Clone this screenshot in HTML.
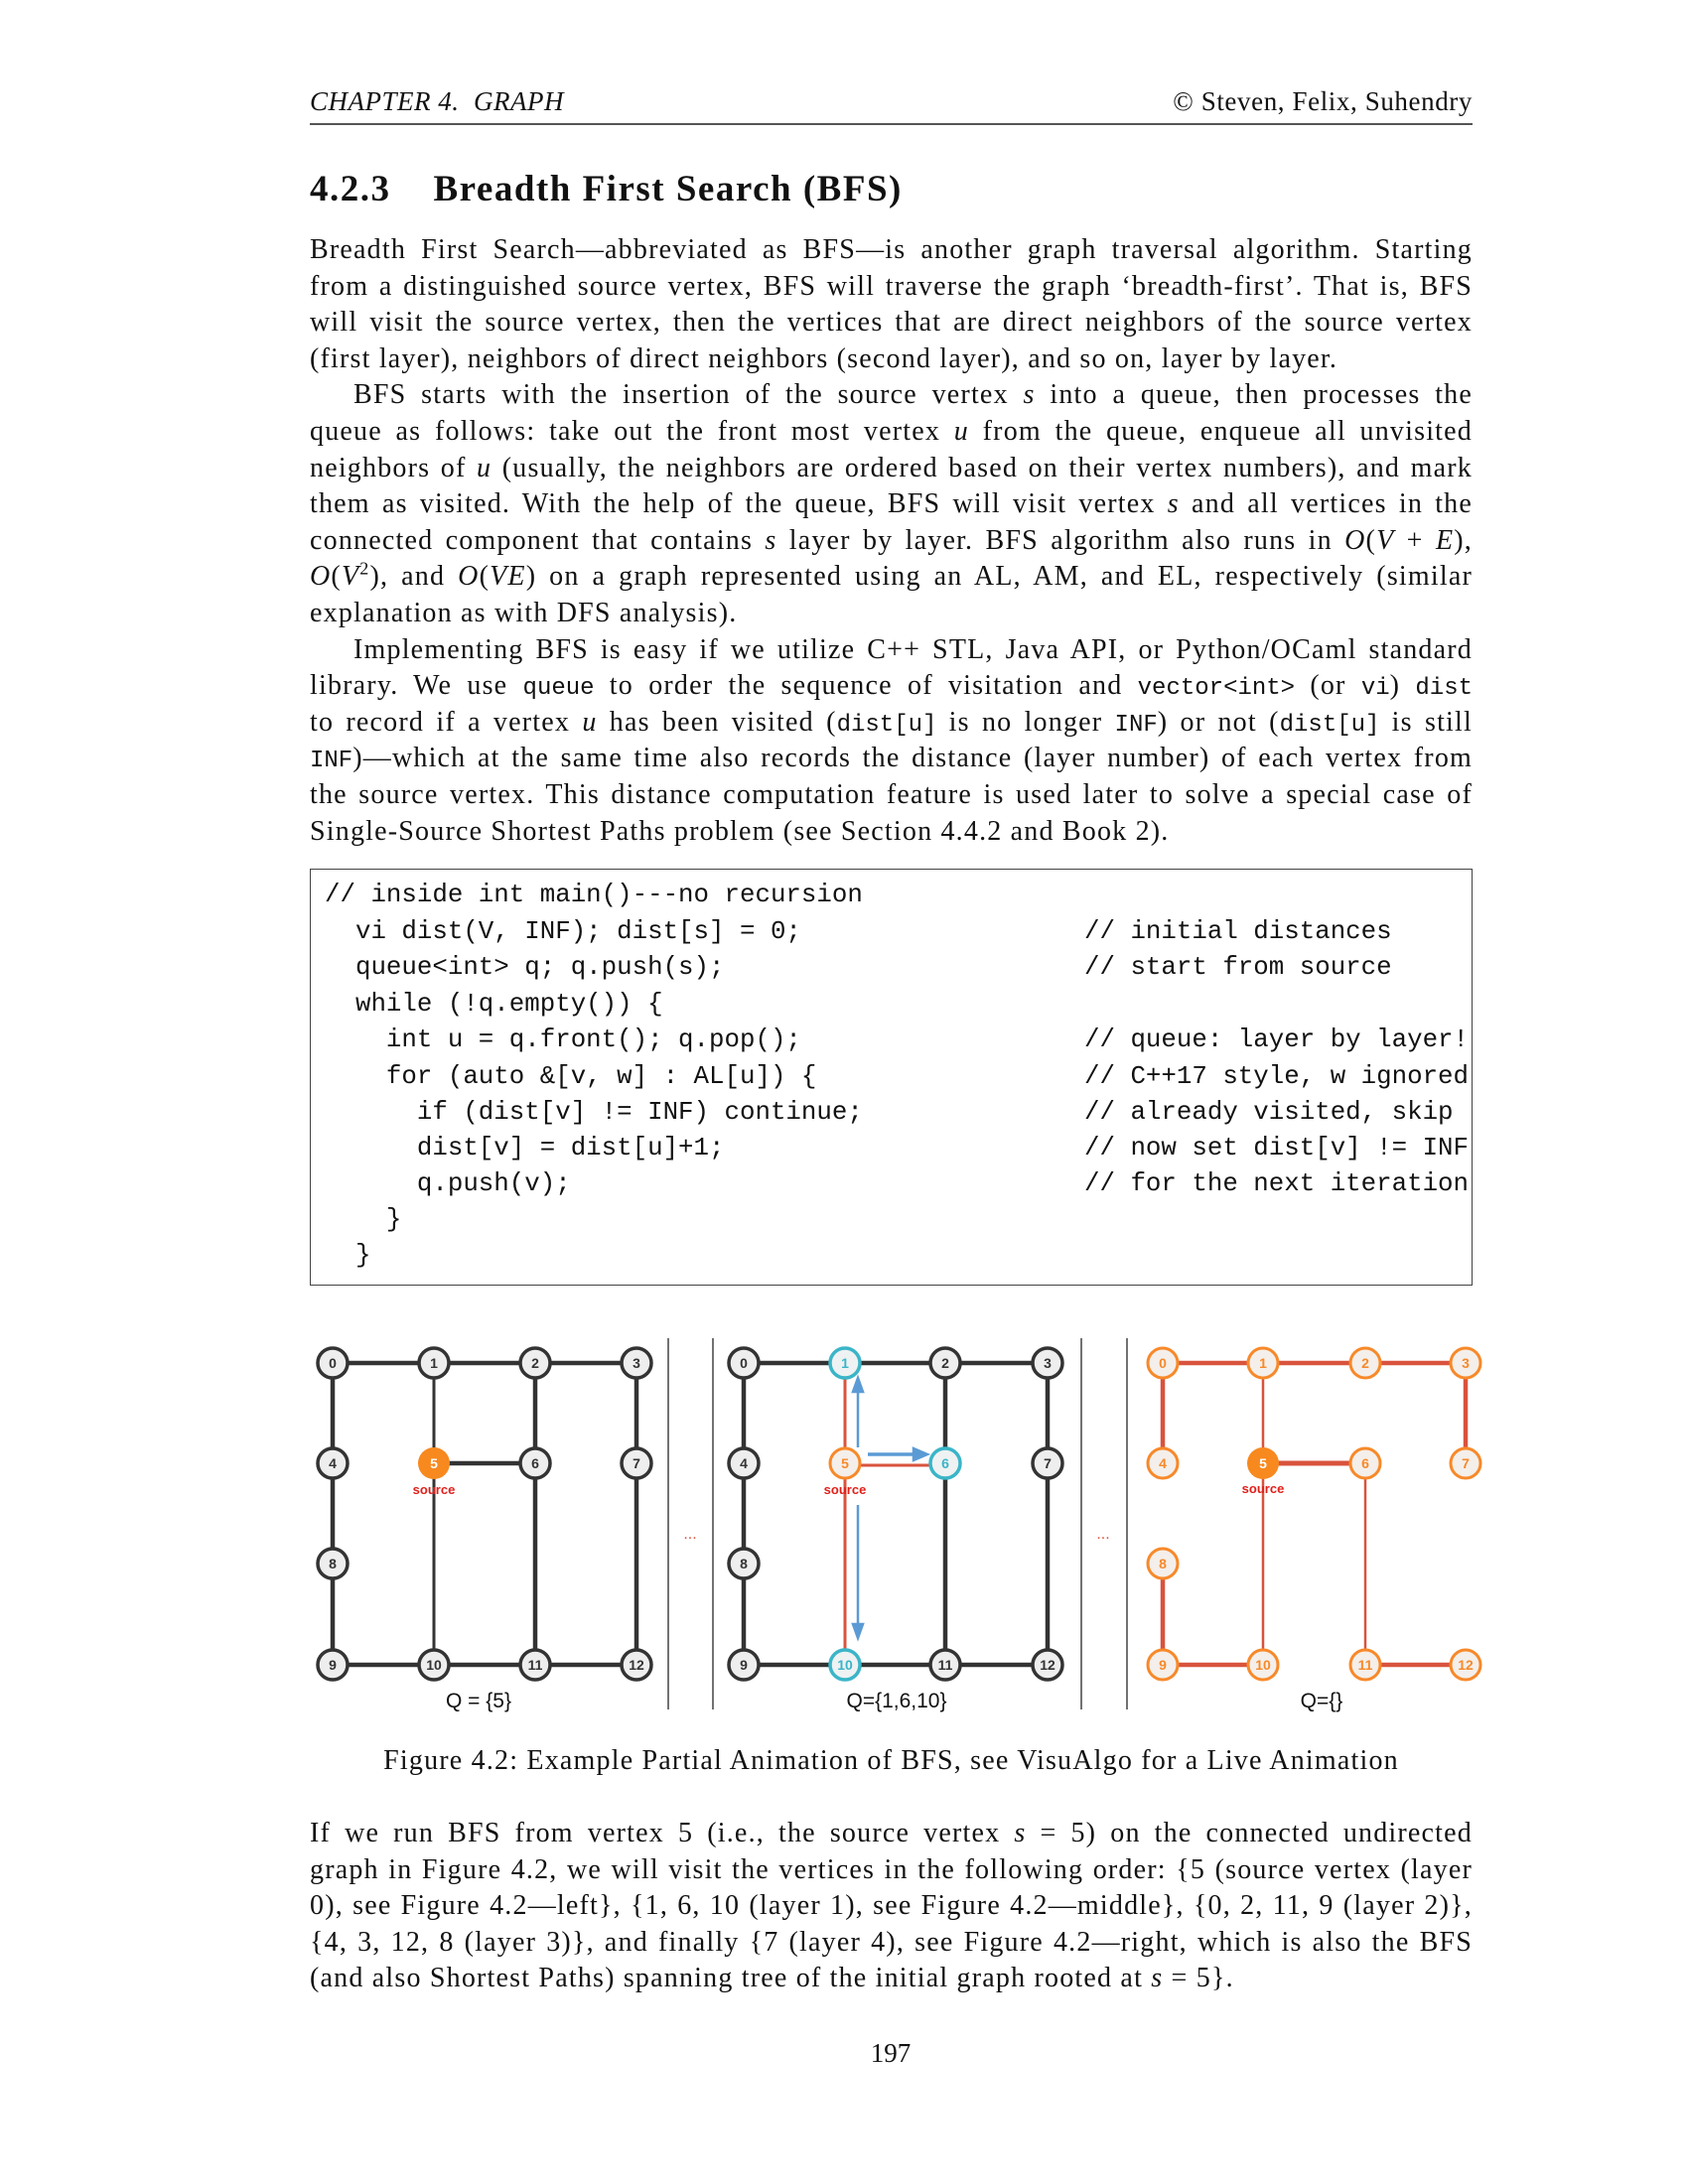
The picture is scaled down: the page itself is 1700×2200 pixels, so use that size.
<!DOCTYPE html>
<html><head><meta charset="utf-8">
<style>
html,body{margin:0;padding:0;background:#fff;}
body{width:1700px;height:2200px;position:relative;overflow:hidden;font-family:"Liberation Serif",serif;color:#111;}
.l{position:absolute;left:312px;width:1171px;height:36px;line-height:36px;font-size:28px;letter-spacing:1.2px;text-align:justify;text-align-last:justify;white-space:nowrap;}
.l.last{text-align-last:left;}
.l.ind{left:356px;width:1127px;}
i{font-style:italic;}
tt{font-family:"Liberation Mono",monospace;font-size:24px;letter-spacing:0;}
.c{position:absolute;left:327px;height:36px;line-height:36px;font-family:"Liberation Mono",monospace;font-size:25.8px;white-space:pre;}
.cm{position:absolute;left:1092px;height:36px;line-height:36px;font-family:"Liberation Mono",monospace;font-size:25.8px;white-space:pre;}
</style></head><body>
<div style="position:absolute;left:312px;top:87px;font-size:27px;font-style:italic;letter-spacing:0.5px;">CHAPTER 4. &nbsp;GRAPH</div>
<div style="position:absolute;right:217px;top:87px;font-size:27px;letter-spacing:0.6px;">© Steven, Felix, Suhendry</div>
<div style="position:absolute;left:312px;top:124px;width:1171px;height:2px;background:#555;"></div>
<div style="position:absolute;left:312px;top:169px;font-size:37px;font-weight:bold;letter-spacing:1.5px;">4.2.3&nbsp;&nbsp;&nbsp;&nbsp;Breadth First Search (BFS)</div>

<div class="l" style="top:234px">Breadth First Search—abbreviated as BFS—is another graph traversal algorithm. Starting</div>
<div class="l" style="top:271px">from a distinguished source vertex, BFS will traverse the graph ‘breadth-first’. That is, BFS</div>
<div class="l" style="top:307px">will visit the source vertex, then the vertices that are direct neighbors of the source vertex</div>
<div class="l last" style="top:344px">(first layer), neighbors of direct neighbors (second layer), and so on, layer by layer.</div>
<div class="l ind" style="top:380px">BFS starts with the insertion of the source vertex <i>s</i> into a queue, then processes the</div>
<div class="l" style="top:417px">queue as follows: take out the front most vertex <i>u</i> from the queue, enqueue all unvisited</div>
<div class="l" style="top:454px">neighbors of <i>u</i> (usually, the neighbors are ordered based on their vertex numbers), and mark</div>
<div class="l" style="top:490px">them as visited. With the help of the queue, BFS will visit vertex <i>s</i> and all vertices in the</div>
<div class="l" style="top:527px">connected component that contains <i>s</i> layer by layer. BFS algorithm also runs in <i>O</i>(<i>V</i> + <i>E</i>),</div>
<div class="l" style="top:563px"><i>O</i>(<i>V</i><sup style="font-size:18px;line-height:0">2</sup>), and <i>O</i>(<i>VE</i>) on a graph represented using an AL, AM, and EL, respectively (similar</div>
<div class="l last" style="top:600px">explanation as with DFS analysis).</div>
<div class="l ind" style="top:637px">Implementing BFS is easy if we utilize C++ STL, Java API, or Python/OCaml standard</div>
<div class="l" style="top:673px">library. We use <tt>queue</tt> to order the sequence of visitation and <tt>vector&lt;int&gt;</tt> (or <tt>vi</tt>) <tt>dist</tt></div>
<div class="l" style="top:710px">to record if a vertex <i>u</i> has been visited (<tt>dist[u]</tt> is no longer <tt>INF</tt>) or not (<tt>dist[u]</tt> is still</div>
<div class="l" style="top:746px"><tt>INF</tt>)—which at the same time also records the distance (layer number) of each vertex from</div>
<div class="l" style="top:783px">the source vertex. This distance computation feature is used later to solve a special case of</div>
<div class="l last" style="top:820px">Single-Source Shortest Paths problem (see Section 4.4.2 and Book 2).</div>

<div style="position:absolute;left:312px;top:875px;width:1169px;height:418px;border:1.5px solid #444;"></div>
<div class="c" style="top:884px">// inside int main()---no recursion</div>
<div class="c" style="top:921px">  vi dist(V, INF); dist[s] = 0;</div>
<div class="c" style="top:957px">  queue&lt;int&gt; q; q.push(s);</div>
<div class="c" style="top:994px">  while (!q.empty()) {</div>
<div class="c" style="top:1030px">    int u = q.front(); q.pop();</div>
<div class="c" style="top:1067px">    for (auto &amp;[v, w] : AL[u]) {</div>
<div class="c" style="top:1103px">      if (dist[v] != INF) continue;</div>
<div class="c" style="top:1139px">      dist[v] = dist[u]+1;</div>
<div class="c" style="top:1175px">      q.push(v);</div>
<div class="c" style="top:1211px">    }</div>
<div class="c" style="top:1247px">  }</div>
<div class="cm" style="top:921px">// initial distances</div>
<div class="cm" style="top:957px">// start from source</div>
<div class="cm" style="top:1030px">// queue: layer by layer!</div>
<div class="cm" style="top:1067px">// C++17 style, w ignored</div>
<div class="cm" style="top:1103px">// already visited, skip</div>
<div class="cm" style="top:1139px">// now set dist[v] != INF</div>
<div class="cm" style="top:1175px">// for the next iteration</div>

<svg style="position:absolute;left:0;top:0" width="1700" height="2200" font-family="Liberation Sans, sans-serif">
<g stroke="#444" stroke-width="1.5">
<line x1="673" y1="1348" x2="673" y2="1722"/><line x1="718" y1="1348" x2="718" y2="1722"/>
<line x1="1089" y1="1348" x2="1089" y2="1722"/><line x1="1135" y1="1348" x2="1135" y2="1722"/>
</g>
<text x="695" y="1550" fill="#d9533d" font-size="16" text-anchor="middle">...</text>
<text x="1111" y="1550" fill="#d9533d" font-size="16" text-anchor="middle">...</text>
<g stroke="#333" stroke-width="4.5">
<line x1="335" y1="1373" x2="641" y2="1373"/>
<line x1="335" y1="1677" x2="641" y2="1677"/>
<line x1="335" y1="1373" x2="335" y2="1677"/>
<line x1="539" y1="1373" x2="539" y2="1677"/>
<line x1="641" y1="1373" x2="641" y2="1677"/>
<line x1="437" y1="1474" x2="539" y2="1474"/>
</g>
<g stroke="#333" stroke-width="3"><line x1="437" y1="1373" x2="437" y2="1677"/></g>
<g stroke="#333" stroke-width="4.5">
<line x1="749" y1="1373" x2="1055" y2="1373"/>
<line x1="749" y1="1677" x2="1055" y2="1677"/>
<line x1="749" y1="1373" x2="749" y2="1677"/>
<line x1="952" y1="1373" x2="952" y2="1677"/>
<line x1="1055" y1="1373" x2="1055" y2="1677"/>
</g>
<g stroke="#d9533d" stroke-width="3"><line x1="851" y1="1373" x2="851" y2="1677"/><line x1="851" y1="1476" x2="952" y2="1476"/></g>
<g stroke="#5b9bd5" stroke-width="2.5" fill="#5b9bd5">
<line x1="864" y1="1458" x2="864" y2="1400"/><polygon points="864,1388 859,1402 869,1402"/>
<line x1="874" y1="1465" x2="922" y2="1465" stroke-width="3.5"/><polygon points="934,1465 920,1459 920,1471"/>
<line x1="864" y1="1516" x2="864" y2="1638"/><polygon points="864,1650 859,1636 869,1636"/>
</g>
<g stroke="#d9533d" stroke-width="4.5">
<line x1="1171" y1="1373" x2="1476" y2="1373"/>
<line x1="1171" y1="1373" x2="1171" y2="1474"/>
<line x1="1476" y1="1373" x2="1476" y2="1474"/>
<line x1="1171" y1="1575" x2="1171" y2="1677"/>
<line x1="1171" y1="1677" x2="1272" y2="1677"/>
<line x1="1375" y1="1677" x2="1476" y2="1677"/>
<line x1="1272" y1="1474" x2="1375" y2="1474" stroke-width="5"/>
</g>
<g stroke="#d9533d" stroke-width="2.5"><line x1="1272" y1="1373" x2="1272" y2="1677"/><line x1="1375" y1="1474" x2="1375" y2="1677"/></g>
<g font-size="14" text-anchor="middle" font-weight="bold">
<g stroke="#333" stroke-width="3.5" fill="#eee">
<circle cx="335" cy="1373" r="15"/><circle cx="437" cy="1373" r="15"/><circle cx="539" cy="1373" r="15"/><circle cx="641" cy="1373" r="15"/>
<circle cx="335" cy="1474" r="15"/><circle cx="539" cy="1474" r="15"/><circle cx="641" cy="1474" r="15"/>
<circle cx="335" cy="1575" r="15"/>
<circle cx="335" cy="1677" r="15"/><circle cx="437" cy="1677" r="15"/><circle cx="539" cy="1677" r="15"/><circle cx="641" cy="1677" r="15"/>
<circle cx="749" cy="1373" r="15"/><circle cx="952" cy="1373" r="15"/><circle cx="1055" cy="1373" r="15"/>
<circle cx="749" cy="1474" r="15"/><circle cx="1055" cy="1474" r="15"/>
<circle cx="749" cy="1575" r="15"/>
<circle cx="749" cy="1677" r="15"/><circle cx="952" cy="1677" r="15"/><circle cx="1055" cy="1677" r="15"/>
</g>
<circle cx="437" cy="1474" r="16" fill="#f7891f"/>
<g stroke="#3bb5c8" stroke-width="3.5" fill="#eef2f2">
<circle cx="851" cy="1373" r="15"/><circle cx="952" cy="1474" r="15"/><circle cx="851" cy="1677" r="15"/>
</g>
<g stroke="#f7892a" stroke-width="3" fill="#f4efea">
<circle cx="851" cy="1474" r="15"/>
<circle cx="1171" cy="1373" r="15"/><circle cx="1272" cy="1373" r="15"/><circle cx="1375" cy="1373" r="15"/><circle cx="1476" cy="1373" r="15"/>
<circle cx="1171" cy="1474" r="15"/><circle cx="1375" cy="1474" r="15"/><circle cx="1476" cy="1474" r="15"/>
<circle cx="1171" cy="1575" r="15"/>
<circle cx="1171" cy="1677" r="15"/><circle cx="1272" cy="1677" r="15"/><circle cx="1375" cy="1677" r="15"/><circle cx="1476" cy="1677" r="15"/>
</g>
<circle cx="1272" cy="1474" r="16" fill="#f7891f"/>
<g fill="#333">
<text x="335" y="1378">0</text><text x="437" y="1378">1</text><text x="539" y="1378">2</text><text x="641" y="1378">3</text>
<text x="335" y="1479">4</text><text x="539" y="1479">6</text><text x="641" y="1479">7</text><text x="335" y="1580">8</text>
<text x="335" y="1682">9</text><text x="437" y="1682">10</text><text x="539" y="1682">11</text><text x="641" y="1682">12</text>
<text x="749" y="1378">0</text><text x="952" y="1378">2</text><text x="1055" y="1378">3</text>
<text x="749" y="1479">4</text><text x="1055" y="1479">7</text><text x="749" y="1580">8</text>
<text x="749" y="1682">9</text><text x="952" y="1682">11</text><text x="1055" y="1682">12</text>
</g>
<g fill="#fff"><text x="437" y="1479">5</text><text x="1272" y="1479">5</text></g>
<g fill="#3bb5c8"><text x="851" y="1378">1</text><text x="952" y="1479">6</text><text x="851" y="1682">10</text></g>
<g fill="#f7892a"><text x="851" y="1479">5</text>
<text x="1171" y="1378">0</text><text x="1272" y="1378">1</text><text x="1375" y="1378">2</text><text x="1476" y="1378">3</text>
<text x="1171" y="1479">4</text><text x="1375" y="1479">6</text><text x="1476" y="1479">7</text><text x="1171" y="1580">8</text>
<text x="1171" y="1682">9</text><text x="1272" y="1682">10</text><text x="1375" y="1682">11</text><text x="1476" y="1682">12</text></g>
<g fill="#e0201a" font-size="13"><text x="437" y="1505">source</text><text x="851" y="1505">source</text><text x="1272" y="1504">source</text></g>
</g>
<g font-size="21" text-anchor="middle" fill="#111">
<text x="482" y="1720">Q = {5}</text><text x="903" y="1720">Q={1,6,10}</text><text x="1331" y="1720">Q={}</text>
</g>
</svg>

<div style="position:absolute;left:312px;width:1171px;top:1756px;line-height:36px;font-size:28px;letter-spacing:1.2px;text-align:center;">Figure 4.2: Example Partial Animation of BFS, see VisuAlgo for a Live Animation</div>

<div class="l" style="top:1829px">If we run BFS from vertex 5 (i.e., the source vertex <i>s</i> = 5) on the connected undirected</div>
<div class="l" style="top:1866px">graph in Figure 4.2, we will visit the vertices in the following order: {5 (source vertex (layer</div>
<div class="l" style="top:1902px">0), see Figure 4.2—left}, {1, 6, 10 (layer 1), see Figure 4.2—middle}, {0, 2, 11, 9 (layer 2)},</div>
<div class="l" style="top:1939px">{4, 3, 12, 8 (layer 3)}, and finally {7 (layer 4), see Figure 4.2—right, which is also the BFS</div>
<div class="l last" style="top:1975px">(and also Shortest Paths) spanning tree of the initial graph rooted at <i>s</i> = 5}.</div>

<div style="position:absolute;left:0;width:1794px;top:2050px;line-height:36px;font-size:27px;text-align:center;">197</div>
</body></html>
